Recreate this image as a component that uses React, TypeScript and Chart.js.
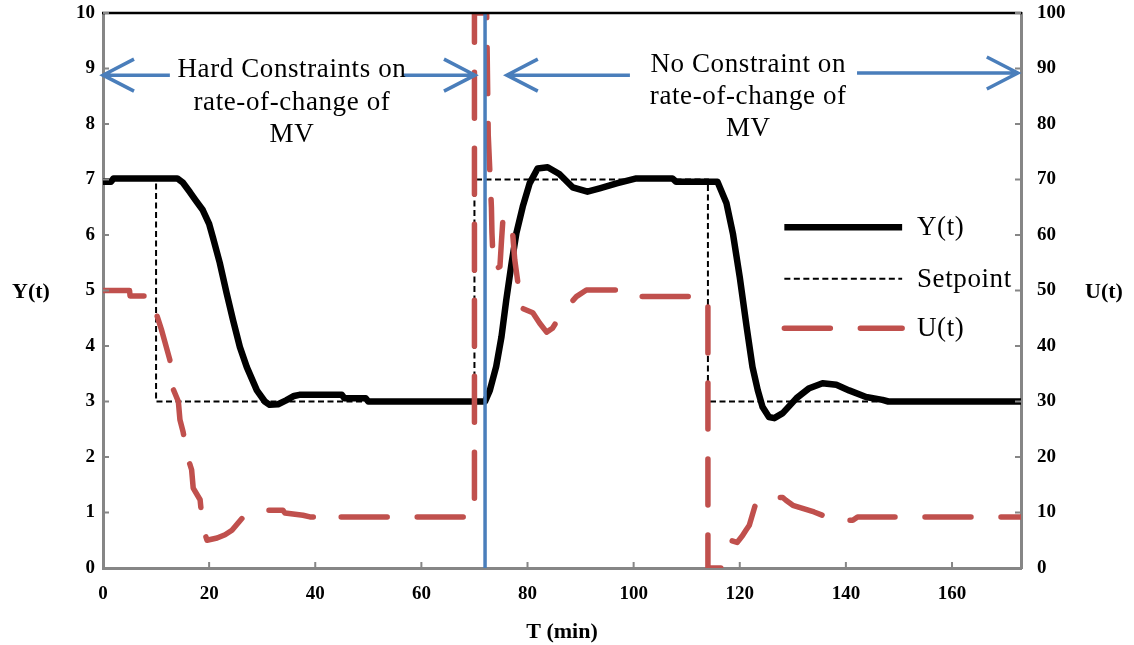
import React, { useEffect, useRef } from 'react';
import { Chart, registerables } from 'chart.js';

Chart.register(...registerables);

// ---------- data ----------
const timeY = [0, 1.5, 2, 14, 15, 16.4, 17.5, 18.8, 20, 20.7, 22, 23.3, 24.5, 25.8, 27.1, 29, 30.5, 31.4, 33, 34.5, 36, 37, 45, 45.5, 49.5, 50, 72,
  72.9, 74.1, 75.1, 76, 77, 77.9, 79.1, 80.4, 81.9, 83.8, 86, 88.5, 91.3, 93.6, 96.8, 100.5, 107.3, 108, 115.8,
  117.5, 118.7, 120, 121.3, 122.4, 123.4, 124.3, 125.5, 126.5, 128.1, 130.7, 133.1, 135.6, 138.2, 140.6, 143.8, 146.9, 148, 173.5];
const valueY = [6.96, 6.96, 7.02, 7.02, 6.95, 6.77, 6.62, 6.45, 6.2, 5.96, 5.5, 4.95, 4.47, 3.98, 3.62, 3.2, 3.0, 2.94, 2.95, 3.02, 3.1, 3.12, 3.12, 3.06, 3.06, 3.0, 3.0,
  3.2, 3.63, 4.17, 4.83, 5.49, 6.03, 6.51, 6.93, 7.2, 7.22, 7.1, 6.86, 6.78, 6.84, 6.93, 7.02, 7.02, 6.96, 6.96,
  6.57, 6.03, 5.24, 4.34, 3.62, 3.2, 2.9, 2.72, 2.7, 2.79, 3.06, 3.24, 3.33, 3.3, 3.2, 3.08, 3.03, 3.0, 3.0];

const timeSP = [0, 10, 10, 70, 70, 114, 114, 173];
const valueSP = [7, 7, 3, 3, 7, 7, 3, 3];

const timeU = [0, 5, 5.1, 9.5, 10, 11, 12.6, 12.9, 14.2, 14.5, 15.1, 16, 16.7, 17, 18.3, 18.8, 19.6, 21.5, 23, 24.3, 26.7, 28.3, 33.9, 34.3, 37.7, 39, 42.8, 43.1, 43.5, 70,
  70, 72.3, 72.6, 73.2, 73.3, 73.6, 74.8, 75.1, 75.4, 76.3, 77.2, 77.6, 78.2, 78.5, 81, 82.3, 83.6, 84.7, 86.6, 89.2, 91.1, 96.8, 97, 101.5, 114,
  114, 116.5, 117.8, 118.5, 119.5, 120.5, 121.1, 121.8, 123.1, 124.4, 128.1, 128.7, 130, 134, 135.6, 137.3, 138.3, 141.3, 142.2, 173];
const valueU = [50, 50, 49, 49, 46, 43, 37.5, 33, 30, 26.7, 24.5, 19.8, 17.7, 14.4, 12.3, 7.4, 5, 5.4, 6, 6.8, 9.5, 10.4, 10.4, 9.9, 9.5, 9.2, 9.2, 8.8, 9.2, 9.2,
  100, 100, 78, 65, 60.4, 53.7, 54.3, 59, 63.3, 63.3, 60.3, 55.5, 51.3, 47, 46, 44.1, 42.5, 43.2, 46.1, 48.9, 50.1, 50.1, 49.4, 48.9, 48.9,
  0, 0, 3.4, 4.9, 4.6, 5.8, 6.7, 7.7, 11.9, 12.7, 12.7, 12.2, 11.3, 10.1, 9.5, 9.5, 8.6, 8.6, 9.2, 9.2];

const switchTime = 72;
const seriesNames = ['Y(t)', 'Setpoint', 'U(t)'];
const leftNote = ['Hard Constraints on', 'rate-of-change of', 'MV'];
const rightNote = ['No Constraint on', 'rate-of-change of', 'MV'];
const axisTitles = { left: 'Y(t)', right: 'U(t)', bottom: 'T (min)' };

// ---------- styles ----------
const BLUE = '#4A7EBB';
const RED = '#C0504D';
const GREY = '#868686';
const SERIF = '"Liberation Serif", "Times New Roman", serif';

const pts = (t: number[], v: number[]) => t.map((x, i) => ({ x, y: v[i] }));

const overlay = {
  id: 'overlay',
  afterDraw(chart: any) {
    const { ctx, chartArea: ca, scales } = chart;
    const x = scales.x, y = scales.y, y1 = scales.y1;
    const X = (v: number) => x.getPixelForValue(v);
    const Y = (v: number) => y.getPixelForValue(v);
    ctx.save();
    // top frame line
    ctx.strokeStyle = '#000';
    ctx.lineWidth = 2.5;
    ctx.beginPath();
    ctx.moveTo(ca.left - 1, ca.top);
    ctx.lineTo(ca.right + 1, ca.top);
    ctx.stroke();
    // inner tick marks
    ctx.strokeStyle = GREY;
    ctx.lineWidth = 2;
    ctx.beginPath();
    y.ticks.forEach((t: any) => { const p = Y(t.value); ctx.moveTo(ca.left, p); ctx.lineTo(ca.left + 6, p); });
    y1.ticks.forEach((t: any) => { const p = y1.getPixelForValue(t.value); ctx.moveTo(ca.right, p); ctx.lineTo(ca.right - 6, p); });
    x.ticks.forEach((t: any) => { const p = X(t.value); ctx.moveTo(p, ca.bottom); ctx.lineTo(p, ca.bottom - 6); });
    ctx.stroke();

    // arrows
    ctx.strokeStyle = BLUE;
    ctx.lineWidth = 3.5;
    ctx.lineCap = 'butt';
    const arrow = (tail: number, tip: number, yv: number) => {
      const a = X(tail), b = X(tip), py = Y(yv);
      const dir = b > a ? 1 : -1;
      ctx.beginPath();
      ctx.moveTo(a, py);
      ctx.lineTo(b, py);
      ctx.moveTo(b - dir * 31, py - 16);
      ctx.lineTo(b, py);
      ctx.lineTo(b - dir * 31, py + 16);
      ctx.stroke();
    };
    arrow(12.6, 0, 8.88);
    arrow(56.4, 70.1, 8.88);
    arrow(99.3, 76.1, 8.88);
    arrow(142.1, 172.4, 8.92);

    // notes
    ctx.fillStyle = '#000';
    ctx.font = `27px ${SERIF}`;
    (ctx as any).letterSpacing = '0.6px';
    ctx.textAlign = 'center';
    ctx.textBaseline = 'alphabetic';
    const lBase = [8.85, 8.25, 7.68];
    const rBase = [8.94, 8.36, 7.78];
    leftNote.forEach((s, i) => ctx.fillText(s, X(35.6), Y(lBase[i])));
    rightNote.forEach((s, i) => ctx.fillText(s, X(121.6), Y(rBase[i])));

    // legend
    const ds = chart.data.datasets;
    const legendRows = [6.14, 5.21, 4.32];
    const legendStyle = [ds[3], ds[2], ds[1]];
    ctx.textAlign = 'left';
    ctx.textBaseline = 'middle';
    legendStyle.forEach((d: any, i: number) => {
      const py = Y(legendRows[i]);
      ctx.save();
      ctx.strokeStyle = d.borderColor;
      ctx.lineWidth = d.borderWidth;
      ctx.lineCap = d.borderCapStyle || 'butt';
      ctx.setLineDash(i === 2 ? [46, 30] : (d.borderDash || []));
      ctx.beginPath();
      ctx.moveTo(X(128.4), py);
      ctx.lineTo(X(150.6), py);
      ctx.stroke();
      ctx.restore();
      ctx.fillText(seriesNames[i], X(153.4), py + 1);
    });

    // axis titles
    (ctx as any).letterSpacing = '0px';
    ctx.font = `bold 22px ${SERIF}`;
    ctx.textBaseline = 'middle';
    ctx.textAlign = 'left';
    ctx.fillText(axisTitles.left, 12, Y(5) + 2);
    ctx.fillText(axisTitles.right, 1085, Y(5) + 2);
    ctx.textAlign = 'center';
    ctx.fillText(axisTitles.bottom, (ca.left + ca.right) / 2, 632);
    ctx.restore();
  },
};

export default function App() {
  const ref = useRef<HTMLCanvasElement>(null);
  useEffect(() => {
    document.body.style.margin = '0';
    const tickFont = { family: SERIF, size: 19, weight: 'bold' as const };
    const chart = new Chart(ref.current!, {
      type: 'line',
      data: {
        datasets: [
          { label: 'switch', data: [{ x: switchTime, y: 0 }, { x: switchTime, y: 10 }], borderColor: BLUE, borderWidth: 3.5, pointRadius: 0, yAxisID: 'y' },
          { label: seriesNames[2], data: pts(timeU, valueU), borderColor: RED, borderWidth: 5.5, borderDash: [46, 30], borderCapStyle: 'round', borderJoinStyle: 'round', pointRadius: 0, yAxisID: 'y1' },
          { label: seriesNames[1], data: pts(timeSP, valueSP), borderColor: '#000', borderWidth: 2, borderDash: [6, 3.5], pointRadius: 0, yAxisID: 'y' },
          { label: seriesNames[0], data: pts(timeY, valueY), borderColor: '#000', borderWidth: 6.5, borderJoinStyle: 'round', borderCapStyle: 'butt', pointRadius: 0, yAxisID: 'y' },
        ] as any,
      },
      options: {
        animation: false,
        responsive: true,
        maintainAspectRatio: false,
        devicePixelRatio: 1,
        events: [],
        layout: { padding: { top: 13, left: 0, right: 0, bottom: 0 } },
        plugins: { legend: { display: false }, tooltip: { enabled: false } },
        elements: { line: { tension: 0 } },
        scales: {
          x: {
            type: 'linear', min: 0, max: 173,
            grid: { display: false, drawTicks: false },
            border: { color: GREY, width: 3 },
            ticks: { stepSize: 20, includeBounds: false, font: tickFont, color: '#000', padding: 15, maxRotation: 0 },
            afterFit: (s: any) => { s.height = 77; s.paddingLeft = 0; s.paddingRight = 0; },
          },
          y: {
            type: 'linear', position: 'left', min: 0, max: 10,
            grid: { display: false, drawTicks: false },
            border: { color: GREY, width: 3 },
            ticks: { stepSize: 1, font: tickFont, color: '#000', padding: 8 },
            afterFit: (s: any) => { s.width = 103; s.paddingTop = 0; s.paddingBottom = 0; },
          },
          y1: {
            type: 'linear', position: 'right', min: 0, max: 100,
            grid: { display: false, drawTicks: false },
            border: { color: GREY, width: 3 },
            ticks: { stepSize: 10, font: tickFont, color: '#000', padding: 16 },
            afterFit: (s: any) => { s.width = 113; s.paddingTop = 0; s.paddingBottom = 0; },
          },
        },
      } as any,
      plugins: [overlay],
    });
    return () => chart.destroy();
  }, []);
  return (
    <div style={{ position: 'absolute', left: 0, top: 0, width: 1134, height: 645, background: '#fff' }}>
      <canvas ref={ref} />
    </div>
  );
}
